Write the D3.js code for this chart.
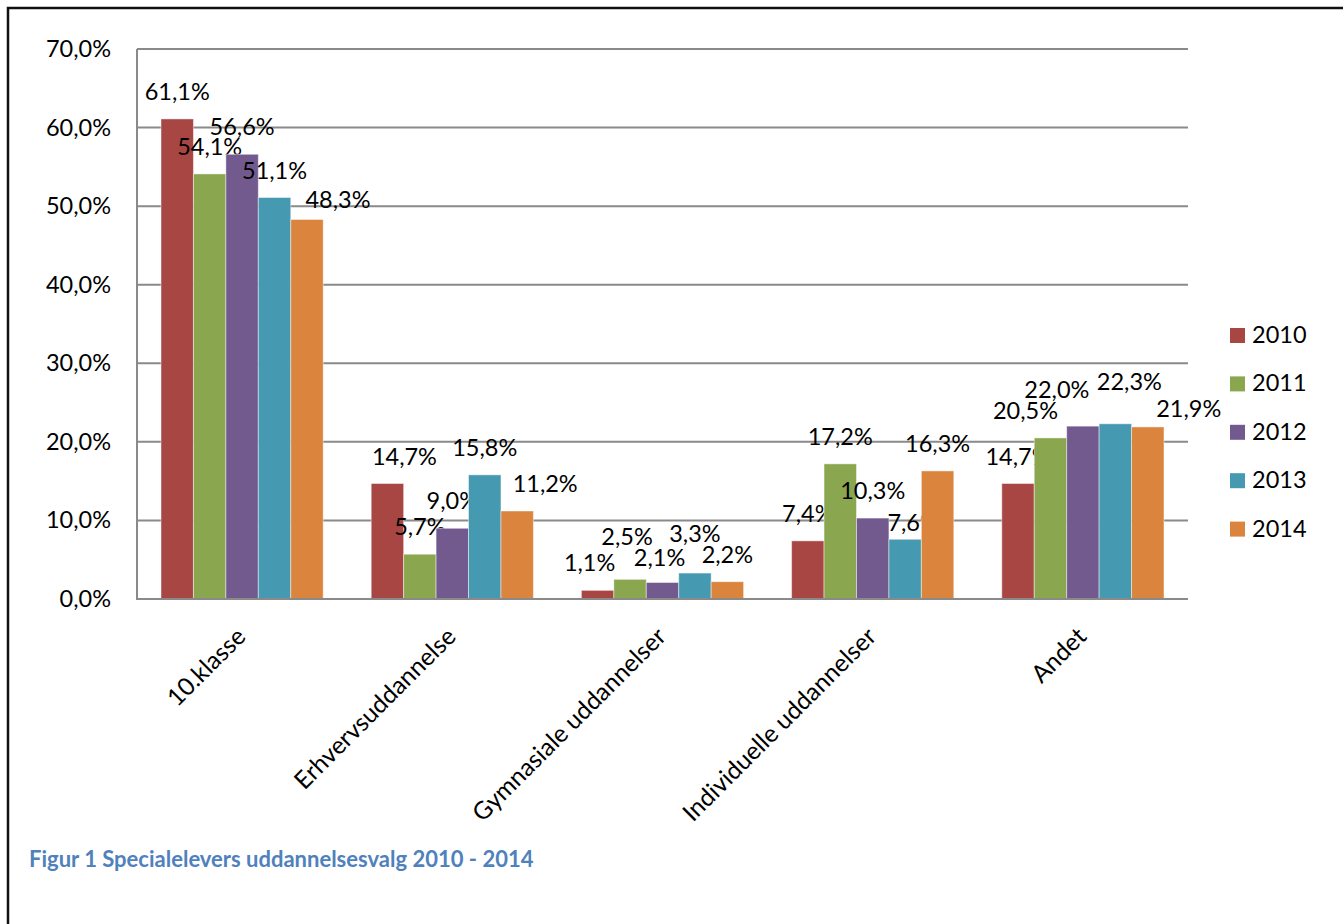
<!DOCTYPE html>
<meta charset="utf-8">

<!-- Load d3.js -->
<script src="https://d3js.org/d3.v7.min.js"></script>

<style>
body {
  margin: 0;
  padding: 0;
  background: white;
}
text {
  font-family: Lato, 'Open Sans', sans-serif;
}
</style>

<body>
<div id="my_dataviz"></div>
</body>

<script>

// data
var categories = ["10.klasse", "Erhvervsuddannelse", "Gymnasiale uddannelser", "Individuelle uddannelser", "Andet"];
var years = ["2010", "2011", "2012", "2013", "2014"];
var v2010 = [61.1, 14.7, 1.1, 7.4, 14.7];
var v2011 = [54.1, 5.7, 2.5, 17.2, 20.5];
var v2012 = [56.6, 9.0, 2.1, 10.3, 22.0];
var v2013 = [51.1, 15.8, 3.3, 7.6, 22.3];
var v2014 = [48.3, 11.2, 2.2, 16.3, 21.9];
var yTicks = [0, 10, 20, 30, 40, 50, 60, 70];
var title = "Figur 1 Specialelevers uddannelsesvalg 2010 - 2014";

var series = [v2010, v2011, v2012, v2013, v2014];

var colors = ["#a84644", "#8aa64f", "#725a8f", "#4599b1", "#db843d"];

// label nudges (dx, dy) so the labels sit like in the original, one row per year
var labelNudge = [
  [[0, 0], [17, 0], [-8, 0], [0, 0], [0, 0]],
  [[0, 0], [0, 0], [-3, -15], [0, 0], [-25, 0]],
  [[0, 0], [0, 0], [-3, 2], [0, 0], [-26, -9]],
  [[0, 0], [0, 0], [0, -12], [8, 11], [14, -15]],
  [[31, 7], [28, 0], [0, 0], [0, 0], [41, 9]]
];

var da = d3.formatLocale({decimal: ",", thousands: ".", grouping: [3], currency: ["", " kr."]});
var pct = function(d) { return da.format(".1f")(d) + "%"; };

var W = 1343, H = 924;
var plot = {left: 137, right: 1188, top: 49, bottom: 599};
var fs = "23.5px";

var svg = d3.select("#my_dataviz")
  .append("svg")
    .attr("width", W)
    .attr("height", H);

// frame (only top and left edge show)
svg.append("path")
  .attr("d", "M8," + H + "V8H" + W)
  .attr("fill", "none")
  .attr("stroke", "#111")
  .attr("stroke-width", 2.5);

var x0 = d3.scaleBand()
  .domain(categories)
  .range([plot.left, plot.right])
  .padding(0);

var x1 = d3.scaleBand()
  .domain(years)
  .range([0, x0.bandwidth()])
  .paddingInner(0)
  .paddingOuter(0.74);

var y = d3.scaleLinear()
  .domain([0, 70])
  .range([plot.bottom, plot.top]);

// gridlines
svg.append("g")
  .selectAll("line")
  .data(yTicks)
  .enter()
  .append("line")
    .attr("x1", plot.left)
    .attr("x2", plot.right)
    .attr("y1", function(d) { return y(d); })
    .attr("y2", function(d) { return y(d); })
    .attr("stroke", "#8a8a8a")
    .attr("stroke-width", 2);

// y tick labels
svg.append("g")
  .selectAll("text")
  .data(yTicks)
  .enter()
  .append("text")
    .attr("x", 111)
    .attr("y", function(d) { return y(d) + 8; })
    .attr("text-anchor", "end")
    .style("font-size", fs)
    .attr("fill", "#000")
    .text(function(d) { return pct(d); });

// bars
var groups = svg.append("g")
  .selectAll("g")
  .data(series)
  .enter()
  .append("g")
    .attr("fill", function(d, i) { return colors[i]; });

groups.selectAll("rect")
  .data(function(d, i) { return d.map(function(v, j) { return {v: v, cat: categories[j], year: years[i]}; }); })
  .enter()
  .append("rect")
    .attr("x", function(d) { return x0(d.cat) + x1(d.year); })
    .attr("y", function(d) { return y(d.v); })
    .attr("width", x1.bandwidth())
    .attr("height", function(d) { return y(0) - y(d.v); })
    .attr("stroke", "#fff")
    .attr("stroke-opacity", 0.45)
    .attr("stroke-width", 1);

// axis lines
svg.append("line")
  .attr("x1", plot.left).attr("x2", plot.left)
  .attr("y1", plot.top).attr("y2", plot.bottom + 1)
  .attr("stroke", "#8a8a8a")
  .attr("stroke-width", 2);
svg.append("line")
  .attr("x1", plot.left - 1).attr("x2", plot.right)
  .attr("y1", plot.bottom).attr("y2", plot.bottom)
  .attr("stroke", "#8a8a8a")
  .attr("stroke-width", 2);

// data labels
groups.each(function(d, i) {
  d3.select(this).selectAll(".lbl")
    .data(d)
    .enter()
    .append("text")
      .attr("class", "lbl")
      .attr("x", function(v, j) { return x0(categories[j]) + x1(years[i]) + x1.bandwidth() / 2 + labelNudge[i][j][0]; })
      .attr("y", function(v, j) { return y(v) - 19 + labelNudge[i][j][1]; })
      .attr("text-anchor", "middle")
      .attr("fill", "#000")
      .style("font-size", fs)
      .text(function(v) { return pct(v); });
});

// category labels, rotated
svg.append("g")
  .selectAll("text")
  .data(categories)
  .enter()
  .append("text")
    .attr("transform", function(d) {
      return "translate(" + (x0(d) + x0.bandwidth() / 2 + 5) + "," + 638 + ") rotate(-45)";
    })
    .attr("text-anchor", "end")
    .style("font-size", "24.5px")
    .attr("fill", "#000")
    .text(function(d) { return d; });

// legend
var legend = svg.append("g")
  .selectAll("g")
  .data(years)
  .enter()
  .append("g")
    .attr("transform", function(d, i) { return "translate(1230," + (328 + i * 48.4) + ")"; });

legend.append("rect")
  .attr("width", 15)
  .attr("height", 15)
  .attr("fill", function(d, i) { return colors[i]; });

legend.append("text")
  .attr("x", 22)
  .attr("y", 15)
  .style("font-size", fs)
  .attr("fill", "#000")
  .text(function(d) { return d; });

// caption
svg.append("text")
  .attr("x", 29)
  .attr("y", 867)
  .attr("fill", "#4f81bd")
  .style("font-size", "22px")
  .style("font-weight", "bold")
  .text(title);

</script>
